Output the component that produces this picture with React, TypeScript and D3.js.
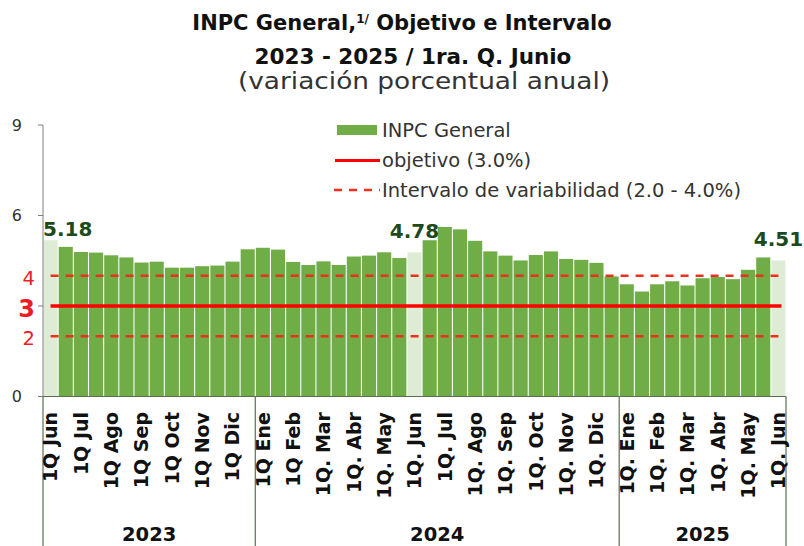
import * as d3 from 'd3'

// INPC anual, quincenal: 1Q Jun 2023 .. 1Q Jun 2025
const inpc = [
  5.18, 4.96, 4.79, 4.77, 4.68, 4.61, 4.44, 4.47, 4.27, 4.27, 4.32, 4.34, 4.47, 4.88,
  4.93, 4.87, 4.46, 4.36, 4.48, 4.36, 4.64, 4.67, 4.78, 4.59, 4.78, 5.18, 5.62, 5.54,
  5.16, 4.81, 4.67, 4.51, 4.69, 4.81, 4.56, 4.53, 4.43, 3.98,
  3.72, 3.48, 3.72, 3.82, 3.68, 3.92, 3.96, 3.89, 4.2, 4.61, 4.51,
]

// one label every first quincena
const tickLabels = [
  '1Q Jun', '1Q Jul', '1Q Ago', '1Q Sep', '1Q Oct', '1Q Nov', '1Q Dic',
  '1Q Ene', '1Q Feb', '1Q. Mar', '1Q. Abr', '1Q. May', '1Q. Jun', '1Q. Jul', '1Q. Ago',
  '1Q. Sep', '1Q. Oct', '1Q. Nov', '1Q. Dic',
  '1Q. Ene', '1Q. Feb', '1Q. Mar', '1Q. Abr', '1Q. May', '1Q. Jun',
]

const years = ['2023', '2024', '2025']
const yearCounts = [14, 24, 11]

const highlighted = [0, 24, 48]
const objetivo = 3
const intervalo = [2, 4]
const yTicks = [0, 3, 6, 9]

const GREEN = '#70ad47'
const LIGHT = '#dfecd5'
const RED = '#ff0000'
const DASH_RED = '#e8321e'
const FONT = '"DejaVu Sans", sans-serif'

export default function App() {
  const width = 804
  const height = 546
  const left = 43
  const right = 786
  const base = 396.5

  const x = d3.scaleBand<number>().domain(d3.range(inpc.length)).range([left, right]).paddingInner(0.07).paddingOuter(0.035)
  const y = d3.scaleLinear().domain([0, 9]).range([base, 125])
  const cx = (i: number) => (x(i) as number) + x.bandwidth() / 2
  const step = x.step()

  const bounds: number[] = [left]
  yearCounts.reduce((acc, n) => {
    bounds.push(left + (acc + n) * step)
    return acc + n
  }, 0)

  const x0 = cx(0)
  const x1 = cx(inpc.length - 1)

  return (
    <svg width={width} height={height} style={{ position: 'absolute', left: 0, top: 0, background: '#fff' }} fontFamily={FONT}>
      {/* title */}
      <text x={402} y={30} textAnchor="middle" fontSize={21} fontWeight="bold" fill="#111">
        INPC General,
        <tspan fontSize={12} dy={-7}>1/</tspan>
        <tspan dy={7}> Objetivo e Intervalo</tspan>
      </text>
      <text x={413} y={64} textAnchor="middle" fontSize={21.5} fontWeight="bold" fill="#111">
        2023 - 2025 / 1ra. Q. Junio
      </text>
      <text x={238} y={89} fontSize={23} fill="#333" textLength={372} lengthAdjust="spacingAndGlyphs">
        (variación porcentual anual)
      </text>

      {/* legend */}
      <rect x={337} y={125} width={40} height={10} fill={GREEN} />
      <line x1={335} x2={380} y1={160.5} y2={160.5} stroke={RED} strokeWidth={3} />
      <line x1={334} x2={380} y1={190} y2={190} stroke={DASH_RED} strokeWidth={2.5} strokeDasharray="8 7" />
      <g fontSize={19.5} fill="#333">
        <text x={382} y={137}>INPC General</text>
        <text x={382} y={167}>objetivo (3.0%)</text>
        <text x={382} y={197}>Intervalo de variabilidad (2.0 - 4.0%)</text>
      </g>

      {/* bars */}
      {inpc.map((v, i) => (
        <rect
          key={i}
          x={x(i)}
          y={y(v)}
          width={x.bandwidth()}
          height={base - y(v)}
          fill={highlighted.includes(i) ? LIGHT : GREEN}
        />
      ))}

      {/* objetivo e intervalo */}
      {intervalo.map((v) => (
        <line key={v} x1={x0} x2={x1} y1={y(v)} y2={y(v)} stroke={DASH_RED} strokeWidth={2.5} strokeDasharray="8 7" />
      ))}
      <line x1={x0} x2={x1 + 3} y1={y(objetivo)} y2={y(objetivo)} stroke={RED} strokeWidth={3.5} />

      {/* data labels */}
      {highlighted.map((i, k) => (
        <text
          key={i}
          x={k === 0 ? left : cx(i)}
          y={y(inpc[i]) - (k === 0 ? 4 : 14)}
          textAnchor={k === 0 ? 'start' : 'middle'}
          fontSize={20}
          fontWeight="bold"
          fill="#1d4a1d"
        >
          {inpc[i].toFixed(2)}
        </text>
      ))}

      {/* y axis */}
      <line x1={left} x2={left} y1={y(9)} y2={base} stroke="#7f7f7f" strokeWidth={1} />
      {yTicks.map((t) => (
        <g key={t}>
          <line x1={left - 5} x2={left} y1={y(t)} y2={y(t)} stroke="#7f7f7f" />
          {t !== objetivo && (
            <text x={22} y={y(t)} dy="0.36em" textAnchor="end" fontSize={16} fill="#333">
              {t}
            </text>
          )}
        </g>
      ))}
      {[...intervalo, objetivo].map((t) => (
        <text
          key={'r' + t}
          x={35}
          y={y(t) + 2}
          dy="0.36em"
          textAnchor="end"
          fontSize={t === objetivo ? 24 : 19.5}
          fontWeight={t === objetivo ? 'bold' : 'normal'}
          fill="#ee1c25"
        >
          {t}
        </text>
      ))}

      {/* x axis */}
      <line x1={left} x2={right} y1={base} y2={base} stroke="#5a6e52" strokeWidth={1.2} />
      {bounds.map((b, i) => (
        <line key={i} x1={b} x2={b} y1={base} y2={height} stroke="#5a6e52" strokeWidth={1.2} />
      ))}
      {tickLabels.map((l, k) => (
        <text
          key={k}
          transform={`translate(${cx(k * 2)},412) rotate(-90)`}
          dy="0.36em"
          textAnchor="end"
          fontSize={19}
          fontWeight="bold"
          fill="#111"
        >
          {l}
        </text>
      ))}
      {years.map((yr, i) => (
        <text key={yr} x={(bounds[i] + bounds[i + 1]) / 2} y={541} textAnchor="middle" fontSize={19.5} fontWeight="bold" fill="#111">
          {yr}
        </text>
      ))}
    </svg>
  )
}
